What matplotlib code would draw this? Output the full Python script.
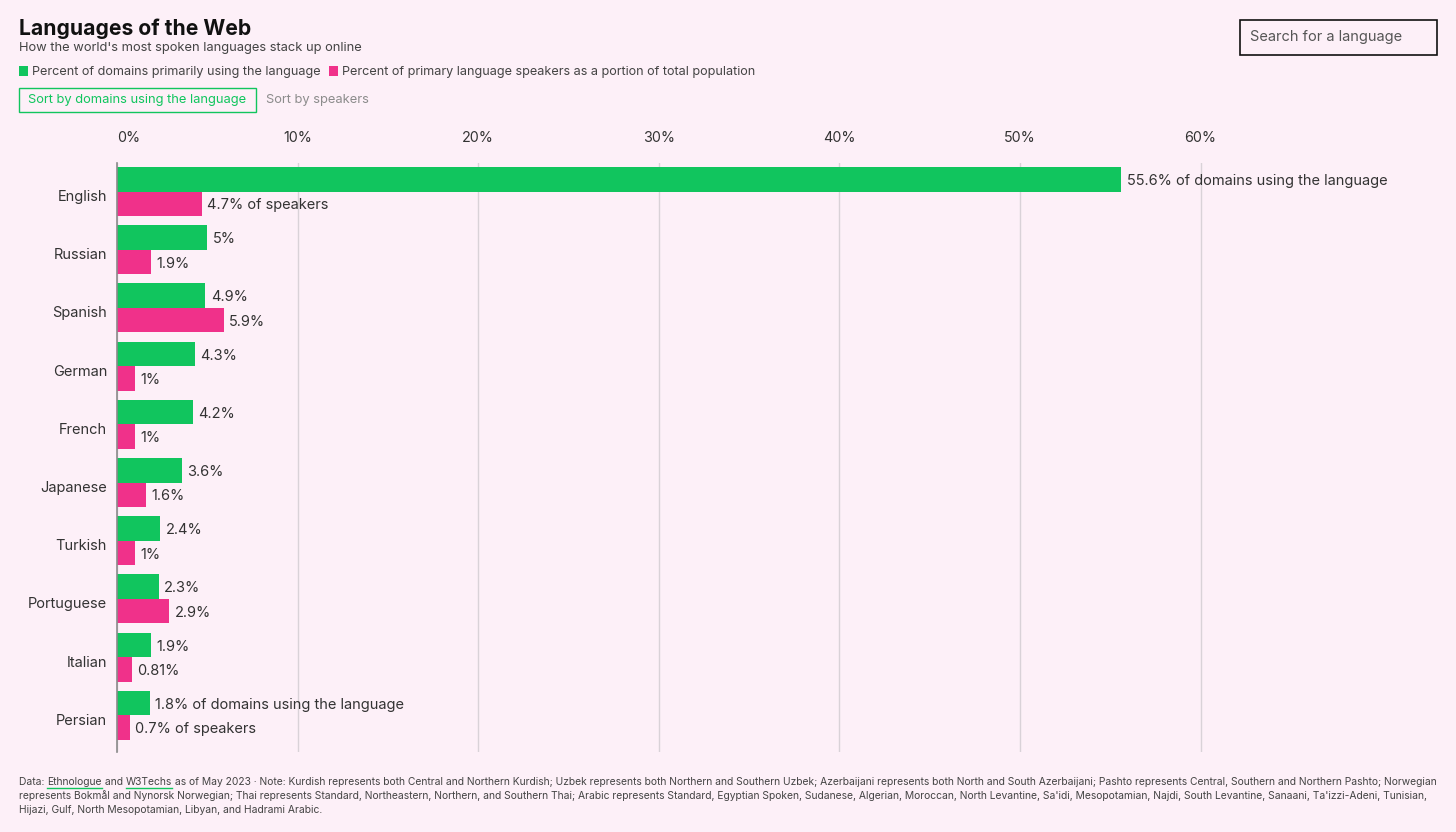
import matplotlib
matplotlib.use("Agg")
import matplotlib.pyplot as plt
import matplotlib.transforms as mtransforms
import numpy as np
from matplotlib.patches import Rectangle
from matplotlib.lines import Line2D

languages = ["English", "Russian", "Spanish", "German", "French",
             "Japanese", "Turkish", "Portuguese", "Italian", "Persian"]
domains = [55.6, 5, 4.9, 4.3, 4.2, 3.6, 2.4, 2.3, 1.9, 1.8]
speakers = [4.7, 1.9, 5.9, 1, 1, 1.6, 1, 2.9, 0.81, 0.7]
xticks = [0, 10, 20, 30, 40, 50, 60]

bg = "#fdf0f8"
green = "#11c55e"
pink = "#f0318a"
txt = "#333333"

plt.rcParams['font.family'] = ['Inter', 'DejaVu Sans']

W, H = 1456, 832
fig = plt.figure(figsize=(W / 100, H / 100), dpi=100, facecolor=bg)

def fx(px):
    return px / W

def fy(py):
    return 1 - py / H

ax = fig.add_axes([fx(117), fy(752), fx(1440 - 117), fy(163) - fy(752)])
ax.set_facecolor(bg)

y = np.arange(len(languages))
h = 0.42
ax.barh(y - h / 2, domains, height=h, color=green, zorder=3)
ax.barh(y + h / 2, speakers, height=h, color=pink, zorder=3)

def fmt(v):
    return ("%g" % v) + "%"

for i in range(len(languages)):
    d = fmt(domains[i])
    s = fmt(speakers[i])
    if i == 0 or i == len(languages) - 1:
        d += " of domains using the language"
        s += " of speakers"
    ax.annotate(d, (domains[i], y[i] - h / 2), xytext=(4, -1.2), textcoords="offset points",
                va="center", ha="left", fontsize=10.5, color=txt)
    ax.annotate(s, (speakers[i], y[i] + h / 2), xytext=(4, -1.2), textcoords="offset points",
                va="center", ha="left", fontsize=10.5, color=txt)

ax.set_xlim(0, (1440 - 117) / 18.06)
ax.set_ylim(9.63, -0.49)
ax.set_yticks(y)
ax.set_yticklabels(languages, fontsize=10.5, color=txt)
ax.set_xticks(xticks)
ax.set_xticklabels([str(t) + "%" for t in xticks], fontsize=10.3, color=txt)
ax.xaxis.tick_top()
ax.tick_params(axis="x", length=0, pad=13)
ax.tick_params(axis="y", length=0, pad=7.2)
ax.get_xticklabels()[0].set_ha("left")
shift = mtransforms.ScaledTranslation(0, -4 / 100, fig.dpi_scale_trans)
for lab in ax.get_yticklabels():
    lab.set_transform(lab.get_transform() + shift)
ax.grid(axis="x", color="#d9d2d8", linewidth=1, zorder=0)
for sp in ["top", "right", "bottom"]:
    ax.spines[sp].set_visible(False)
ax.spines["left"].set_color("#8a8a8a")
ax.spines["left"].set_linewidth(1.2)
ax.spines["left"].set_zorder(4)

# header
fig.text(fx(19), fy(29), "Languages of the Web", fontsize=15.2, fontweight="bold",
         color="#111111", va="center", ha="left")
fig.text(fx(19), fy(47.5), "How the world's most spoken languages stack up online",
         fontsize=9.3, color="#444444", va="center", ha="left")

fig.patches.append(Rectangle((fx(19), fy(76)), fx(9), fy(66) - fy(76), transform=fig.transFigure,
                             facecolor=green, edgecolor="none"))
fig.text(fx(32), fy(71.5), "Percent of domains primarily using the language",
         fontsize=9.1, color="#444444", va="center", ha="left")
fig.patches.append(Rectangle((fx(329), fy(76)), fx(9), fy(66) - fy(76), transform=fig.transFigure,
                             facecolor=pink, edgecolor="none"))
fig.text(fx(342), fy(71.5), "Percent of primary language speakers as a portion of total population",
         fontsize=9.1, color="#444444", va="center", ha="left")

fig.patches.append(Rectangle((fx(19), fy(112)), fx(237), fy(88) - fy(112), transform=fig.transFigure,
                             facecolor="none", edgecolor=green, linewidth=1))
fig.text(fx(28), fy(100.5), "Sort by domains using the language",
         fontsize=9.3, color=green, va="center", ha="left")
fig.text(fx(266), fy(100.5), "Sort by speakers",
         fontsize=9.3, color="#8c8c8c", va="center", ha="left")

fig.patches.append(Rectangle((fx(1240), fy(55)), fx(197), fy(20) - fy(55), transform=fig.transFigure,
                             facecolor="none", edgecolor="#111111", linewidth=1.2))
fig.text(fx(1250), fy(37), "Search for a language",
         fontsize=10.5, color="#555555", va="center", ha="left")

# footer
foot = dict(fontsize=7.42, color="#444444", va="center", ha="left")
fig.canvas.draw()
r = fig.canvas.get_renderer()
pieces = ["Data: ", "Ethnologue", " and ", "W3Techs",
          " as of May 2023 \u00b7 Note: Kurdish represents both Central and Northern Kurdish; "
          "Uzbek represents both Northern and Southern Uzbek; Azerbaijani represents both North and "
          "South Azerbaijani; Pashto represents Central, Southern and Northern Pashto; Norwegian"]
xpos = fx(19)
for k, p in enumerate(pieces):
    t = fig.text(xpos, fy(782), p, **foot)
    bb = t.get_window_extent(r).transformed(fig.transFigure.inverted())
    if k in (1, 3):
        fig.lines.append(Line2D([bb.x0, bb.x1], [fy(787.5), fy(787.5)], transform=fig.transFigure,
                                color=green, linewidth=1))
    xpos = bb.x1
fig.text(fx(19), fy(796), "represents Bokm\u00e5l and Nynorsk Norwegian; Thai represents Standard, "
         "Northeastern, Northern, and Southern Thai; Arabic represents Standard, Egyptian Spoken, "
         "Sudanese, Algerian, Moroccan, North Levantine, Sa'idi, Mesopotamian, Najdi, South Levantine, "
         "Sanaani, Ta'izzi-Adeni, Tunisian,", **foot)
fig.text(fx(19), fy(810), "Hijazi, Gulf, North Mesopotamian, Libyan, and Hadrami Arabic.", **foot)

fig.savefig("out.png", dpi=100, facecolor=bg)
